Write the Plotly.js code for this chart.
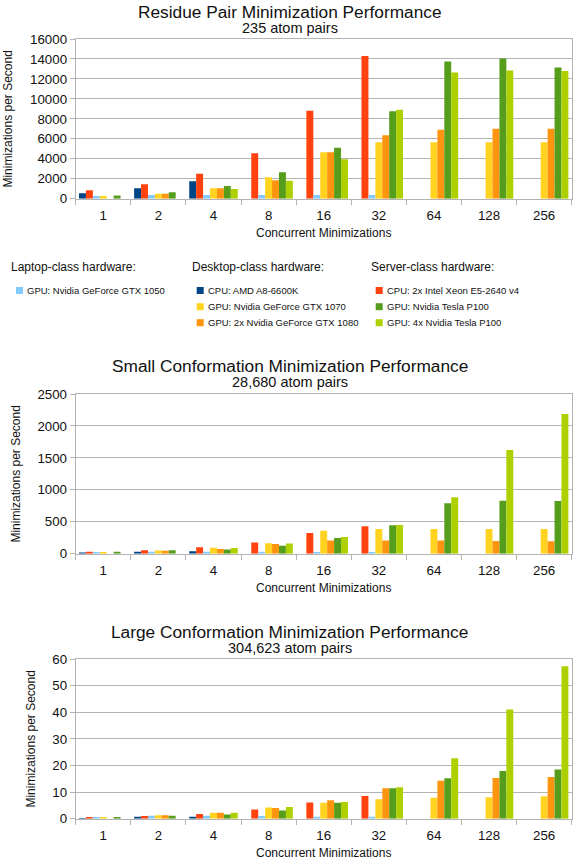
<!DOCTYPE html>
<html><head><meta charset="utf-8">
<script src="https://cdn.plot.ly/plotly-3.0.1.min.js"></script>
<style>html,body{margin:0;padding:0;background:#fff}#chart{width:579px;height:864px}</style>
</head><body><div id="chart"></div>
<script>
const categories = ["1","2","4","8","16","32","64","128","256"];
const seriesNames = [
  "CPU: AMD A8-6600K",
  "CPU: 2x Intel Xeon E5-2640 v4",
  "GPU: Nvidia GeForce GTX 1050",
  "GPU: Nvidia GeForce GTX 1070",
  "GPU: 2x Nvidia GeForce GTX 1080",
  "GPU: Nvidia Tesla P100",
  "GPU: 4x Nvidia Tesla P100"
];
const chartTitles = ["Residue Pair Minimization Performance","Small Conformation Minimization Performance","Large Conformation Minimization Performance"];
const chartSubtitles = ["235 atom pairs","28,680 atom pairs","304,623 atom pairs"];
const xTitle = "Concurrent Minimizations";
const yTitle = "Minimizations per Second";
const legendHeadings = ["Laptop-class hardware:","Desktop-class hardware:","Server-class hardware:"];
const legendMembers = [[2],[0,3,4],[1,5,6]];

// Residue pair (235 atom pairs)
const residueAmd   = [540,1040,1740,null,null,null,null,null,null];
const residueXeon  = [840,1440,2500,4550,8800,14300,null,null,null];
const residue1050  = [270,370,370,370,370,370,null,null,null];
const residue1070  = [270,500,1040,2150,4650,5650,5650,5650,5650];
const residue1080  = [null,500,1040,1850,4650,6350,6900,7000,7000];
const residueP100  = [320,640,1270,2650,5100,8750,13750,14050,13150];
const residueP100x4= [null,null,970,1800,3950,8900,12650,12850,12800];

// Small conformation (28,680 atom pairs)
const smallAmd   = [20,30,40,null,null,null,null,null,null];
const smallXeon  = [30,55,100,175,325,430,null,null,null];
const small1050  = [25,30,30,30,26,25,null,null,null];
const small1070  = [25,50,95,165,360,385,385,385,385];
const small1080  = [null,45,75,150,205,205,205,200,195];
const smallP100  = [30,55,65,125,245,445,790,830,825];
const smallP100x4= [null,null,90,160,260,450,885,1625,2185];

// Large conformation (304,623 atom pairs)
const largeAmd   = [0.3,0.7,0.75,null,null,null,null,null,null];
const largeXeon  = [0.6,1.0,1.75,3.5,6.1,8.5,null,null,null];
const large1050  = [0.6,1.1,1.1,1.0,0.75,0.75,null,null,null];
const large1070  = [0.6,1.25,2.25,4.25,6.0,7.3,7.9,8.1,8.4];
const large1080  = [null,1.25,2.25,4.0,6.9,11.4,14.3,15.3,15.7];
const largeP100  = [0.6,1.15,1.6,3.1,6.0,11.4,15.2,17.9,18.5];
const largeP100x4= [null,null,2.25,4.4,6.25,11.8,22.7,41.0,57.3];

const yRanges = [[0,16000],[0,2500],[0,60]];
const yDticks = [2000,500,10];

// ---- styling / layout ----
const seriesColors = ["#004586","#ff420e","#83caff","#ffd320","#ff950e","#579d1c","#aecf00"];
const W = 579, H = 864;
const FONT = "Liberation Sans, Arial, sans-serif";
const GRID = "#b3b3b3";
const TXT = "#111111";

const chartData = [
  [residueAmd,residueXeon,residue1050,residue1070,residue1080,residueP100,residueP100x4],
  [smallAmd,smallXeon,small1050,small1070,small1080,smallP100,smallP100x4],
  [largeAmd,largeXeon,large1050,large1070,large1080,largeP100,largeP100x4]
];
// plot area pixel boxes [top, bottom]
const plotPx = [[39,198.7],[394,553.7],[659,818.7]];
const xLeft = 75.7, xRight = 571.7;
const titleY = [12.5,366,632];
const subY = [28,382,648];

const px2x = p => p / W;
const px2y = p => 1 - p / H;

const traces = [];
chartData.forEach((series, c) => {
  const sfx = c === 0 ? "" : String(c + 1);
  series.forEach((vals, s) => {
    traces.push({
      type: "bar",
      x: categories,
      y: vals,
      name: seriesNames[s],
      marker: {color: seriesColors[s], line: {width: 0}},
      xaxis: "x" + sfx,
      yaxis: "y" + sfx,
      showlegend: false,
      hoverinfo: "x+y+name"
    });
  });
});

const layout = {
  width: W, height: H,
  margin: {l: 0, r: 0, t: 0, b: 0},
  paper_bgcolor: "#fff", plot_bgcolor: "#fff",
  font: {family: FONT, color: TXT},
  barmode: "group",
  bargap: 0.12,
  bargroupgap: 0,
  showlegend: false,
  annotations: [],
  shapes: []
};

chartData.forEach((series, c) => {
  const sfx = c === 0 ? "" : String(c + 1);
  const yname = "y" + sfx;
  const xname = "x" + sfx;
  layout["xaxis" + sfx] = {
    type: "category",
    domain: [px2x(xLeft), px2x(xRight)],
    anchor: yname,
    tickson: "boundaries",
    ticks: "outside", ticklen: 5, tickcolor: GRID, tickwidth: 1,
    ticklabelstandoff: 4,
    showline: true, linecolor: GRID, linewidth: 1, mirror: true,
    showgrid: false,
    tickfont: {size: 13.3, color: TXT, family: FONT},
    title: {text: xTitle, font: {size: 12, color: TXT, family: FONT}, standoff: 6},
    fixedrange: true
  };
  layout["yaxis" + sfx] = {
    domain: [px2y(plotPx[c][1]), px2y(plotPx[c][0])],
    anchor: xname,
    range: yRanges[c],
    dtick: yDticks[c],
    tickformat: "d",
    ticks: "outside", ticklen: 5, tickcolor: GRID, tickwidth: 1,
    showline: true, linecolor: GRID, linewidth: 1, mirror: true,
    showgrid: true, gridcolor: GRID, gridwidth: 1,
    zeroline: false,
    tickfont: {size: 13.3, color: TXT, family: FONT},
    title: {text: yTitle, font: {size: 12, color: TXT, family: FONT}, standoff: 14},
    fixedrange: true
  };
  layout.annotations.push({
    text: chartTitles[c], xref: "paper", yref: "paper",
    x: 0.5, y: px2y(titleY[c]), xanchor: "center", yanchor: "middle",
    showarrow: false, font: {size: 17.3, color: TXT, family: FONT}
  });
  layout.annotations.push({
    text: chartSubtitles[c], xref: "paper", yref: "paper",
    x: 0.5, y: px2y(subY[c]), xanchor: "center", yanchor: "middle",
    showarrow: false, font: {size: 14.5, color: TXT, family: FONT}
  });
});

// Legend (three groups with headings)
const legColX = [11, 191.7, 370.7];
const legHeadY = 267.5;
const legItemY = [290.5, 306.7, 322.7];
legendHeadings.forEach((h, g) => {
  layout.annotations.push({
    text: h, xref: "paper", yref: "paper",
    x: px2x(legColX[g] - 2), y: px2y(legHeadY), xanchor: "left", yanchor: "middle",
    showarrow: false, font: {size: 12, color: TXT, family: FONT}
  });
  legendMembers[g].forEach((s, i) => {
    const sx = legColX[g] + 5;
    const cy = legItemY[i];
    layout.shapes.push({
      type: "rect", xref: "paper", yref: "paper",
      x0: px2x(sx), x1: px2x(sx + 7), y0: px2y(cy - 3.5), y1: px2y(cy + 3.5),
      fillcolor: seriesColors[s], line: {width: 0}
    });
    layout.annotations.push({
      text: seriesNames[s], xref: "paper", yref: "paper",
      x: px2x(sx + 11 - 2), y: px2y(cy), xanchor: "left", yanchor: "middle",
      showarrow: false, font: {size: 9.5, color: TXT, family: FONT}
    });
  });
});

Plotly.newPlot("chart", traces, layout, {displayModeBar: false, staticPlot: true});
</script>
</body></html>
